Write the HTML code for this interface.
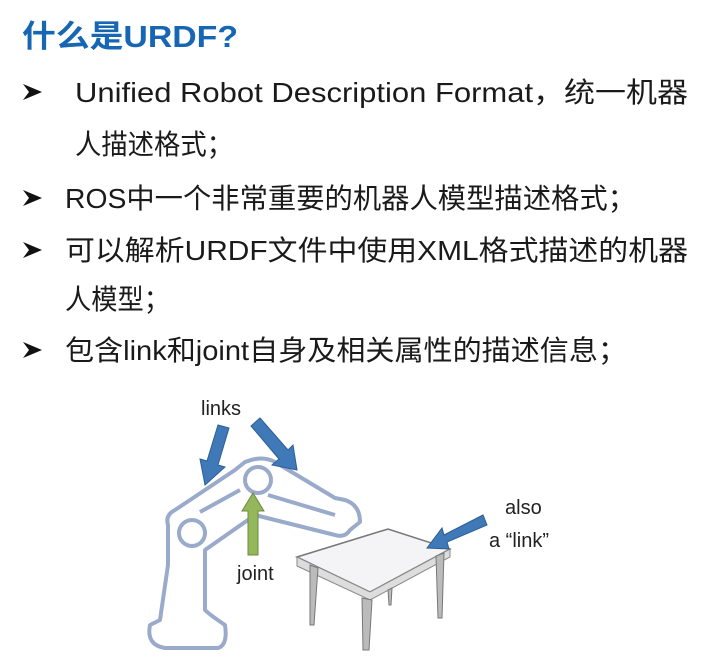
<!DOCTYPE html>
<html><head><meta charset="utf-8"><style>
html,body{margin:0;padding:0;background:#fff;}
svg{display:block}
.t{font-family:"Liberation Sans","Noto Sans CJK SC",sans-serif;font-size:28px;fill:#1a1a1a}
</style></head><body>
<svg width="712" height="668" viewBox="0 0 712 668" xmlns="http://www.w3.org/2000/svg">
<text x="22" y="47" font-family="Liberation Sans,Noto Sans CJK SC,sans-serif" font-weight="bold" font-size="31" fill="#1766b3" textLength="216" lengthAdjust="spacingAndGlyphs">什么是URDF?</text>
<g fill="#111">
<path d="M23 84 L42 92 L23 100 L29 92 Z"/>
<path d="M23 190 L42 198 L23 206 L29 198 Z"/>
<path d="M23 242 L42 250 L23 258 L29 250 Z"/>
<path d="M23 342 L42 350 L23 358 L29 350 Z"/>
</g>
<text class="t" x="75" y="102" textLength="613" lengthAdjust="spacingAndGlyphs">Unified Robot Description Format，统一机器</text>
<text class="t" x="75" y="154" textLength="158" lengthAdjust="spacingAndGlyphs">人描述格式；</text>
<text class="t" x="65" y="208" textLength="571" lengthAdjust="spacingAndGlyphs">ROS中一个非常重要的机器人模型描述格式；</text>
<text class="t" x="65" y="260" textLength="623" lengthAdjust="spacingAndGlyphs">可以解析URDF文件中使用XML格式描述的机器</text>
<text class="t" x="65" y="309" textLength="105" lengthAdjust="spacingAndGlyphs">人模型；</text>
<text class="t" x="65" y="360" textLength="562" lengthAdjust="spacingAndGlyphs">包含link和joint自身及相关属性的描述信息；</text>

<!-- robot -->
<g fill="none" stroke="#9aaacb" stroke-width="4" stroke-linejoin="round">
<path d="M150 625 Q146 645 165 648 L218 648 Q228 645 225 625 Q210 615 205 610 L205 550 L255 515 L335 535 Q345 538 350 530 L360 522 Q360 505 345 500 L335 498 L275 462 Q262 455 245 462 L235 470 L175 510 Q165 515 168 525 L168 565 L160 620 Z"/>
<circle cx="192" cy="533" r="13"/>
<circle cx="258" cy="480" r="13"/>
<path d="M240 490 L200 512 M268 495 L335 515"/>
</g>
<!-- table -->
<polygon points="297,557 388,529 450,549 370,592" fill="#f4f4f6" stroke="#777" stroke-width="1.5"/>
<polygon points="297,557 370,592 450,549 450,557 370,600 297,566" fill="#ddd" stroke="#888" stroke-width="1"/>
<g fill="#bbb" stroke="#777" stroke-width="1">
<polygon points="310,565 318,568 314,625 310,625"/>
<polygon points="362,598 372,600 369,650 363,650"/>
<polygon points="436,556 444,553 442,618 438,618"/>
<polygon points="388,590 392,588 391,605 389,605"/>
</g>
<!-- arrows -->
<g fill="#3f79b8" stroke="#2d5e95" stroke-width="1">
<polygon points="218,425 229,428 218,465 225,467 205,485 200,459 207,461"/>
<polygon points="251,426 260,418 288,450 293,445 297,470 272,465 279,459"/>
<polygon points="483,515 487,525 447,542 449,549 427,548 442,528 444,535"/>
</g>
<polygon points="248,555 258,555 258,511 264,511 253,493 242,511 248,511" fill="#93b75a" stroke="#6d8b3e" stroke-width="1"/>
<g font-family="Liberation Sans,sans-serif" font-size="20" fill="#222">
<text x="201" y="415">links</text>
<text x="237" y="580">joint</text>
<text x="505" y="514">also</text>
<text x="489" y="547">a “link”</text>
</g>
</svg>
</body></html>
